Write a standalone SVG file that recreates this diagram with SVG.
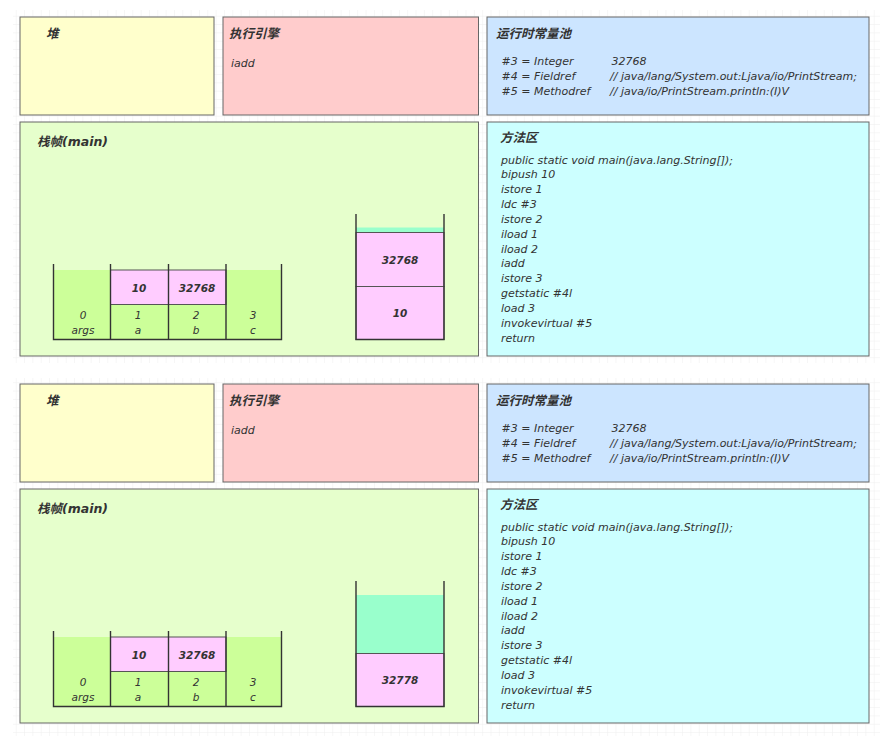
<svg xmlns="http://www.w3.org/2000/svg" width="880" height="736" viewBox="0 0 880 736">
<defs>
<pattern id="grid" width="8.33" height="8.33" patternUnits="userSpaceOnUse">
<path d="M8.33 0V8.33M0 8.33H8.33" fill="none" stroke="#eeeeee" stroke-width="1"/>
</pattern>
<style>
.box{stroke:#666666;stroke-width:1}
.heap{fill:#ffffcc}
.eng{fill:#ffcccc}
.pool{fill:#cce5ff}
.meth{fill:#ccffff}
.frame{fill:#e6ffcc}
.lv{fill:#ccff99}
.pink{fill:#ffccff;stroke:#555555;stroke-width:1}
.aqua{fill:#99ffcc}
.wall{fill:none;stroke:#333333;stroke-width:1.4}
.t{font-family:"DejaVu Sans","Noto Sans CJK SC",sans-serif;font-style:italic;fill:#333333}
.h{font-size:12.5px;font-weight:bold}
.b{font-size:11px}
.c{font-size:10.5px;font-weight:bold;text-anchor:middle}
.s{font-size:10.5px;text-anchor:middle}
</style>
</defs>
<rect width="880" height="736" fill="#ffffff"/>
<rect x="13" y="10" width="867" height="353" fill="url(#grid)"/>
<rect x="13" y="378" width="867" height="358" fill="url(#grid)"/>

<g id="panel1">
<g id="heap1"><rect class="box heap" x="20" y="17" width="194" height="98"/><text class="t h" x="46" y="38">堆</text></g>
<g id="engine1"><rect class="box eng" x="223" y="17" width="255.5" height="98"/><text class="t h" x="229" y="38">执行引擎</text><text class="t b" x="231" y="67">iadd</text></g>
<g id="pool1"><rect class="box pool" x="487" y="17" width="382" height="98"/><text class="t h" x="496" y="38">运行时常量池</text>
<text class="t b" x="501.5" y="65">#3 = Integer</text><text class="t b" x="611.5" y="65">32768</text>
<text class="t b" x="501.5" y="80">#4 = Fieldref</text><text class="t b" x="610" y="80">// java/lang/System.out:Ljava/io/PrintStream;</text>
<text class="t b" x="501.5" y="95">#5 = Methodref</text><text class="t b" x="610" y="95">// java/io/PrintStream.println:(I)V</text></g>
<g id="frame1"><rect class="box frame" x="20" y="122" width="458.5" height="234"/><text class="t h" x="37" y="146">栈帧(main)</text>
<g id="locals1">
<rect class="lv" x="53.5" y="270" width="228" height="69.5"/>
<rect class="pink" x="110.5" y="270" width="58" height="34.5"/><rect class="pink" x="168.5" y="270" width="57.5" height="34.5"/>
<path class="wall" d="M53.5 264V339.5H281.5V264M110.5 264V339.5M168.5 264V339.5M226 264V339.5"/>
<text class="t c" x="139" y="292">10</text><text class="t c" x="197" y="292">32768</text>
<text class="t s" x="83" y="319">0</text><text class="t s" x="83" y="334">args</text>
<text class="t s" x="138" y="319">1</text><text class="t s" x="138" y="334">a</text>
<text class="t s" x="196" y="319">2</text><text class="t s" x="196" y="334">b</text>
<text class="t s" x="253" y="319">3</text><text class="t s" x="253" y="334">c</text>
</g>
<g id="opstack1">
<rect class="aqua" x="356" y="227.5" width="88" height="5"/>
<rect class="pink" x="356" y="232.5" width="88" height="54"/><rect class="pink" x="356" y="286.5" width="88" height="53"/>
<path class="wall" d="M356 214V339.5H444V214"/>
<text class="t c" x="400" y="264">32768</text><text class="t c" x="400" y="317">10</text>
</g>
</g>
<g id="method1"><rect class="box meth" x="487" y="122" width="382" height="234"/><text class="t h" x="500" y="142">方法区</text>
<text class="t b" x="501"><tspan x="501" y="163.5">public static void main(java.lang.String[]);</tspan><tspan x="501" y="178.3">bipush 10</tspan><tspan x="501" y="193.2">istore 1</tspan><tspan x="501" y="208">ldc #3</tspan><tspan x="501" y="222.8">istore 2</tspan><tspan x="501" y="237.7">iload 1</tspan><tspan x="501" y="252.5">iload 2</tspan><tspan x="501" y="267.3">iadd</tspan><tspan x="501" y="282.2">istore 3</tspan><tspan x="501" y="297">getstatic #4l</tspan><tspan x="501" y="311.8">load 3</tspan><tspan x="501" y="326.7">invokevirtual #5</tspan><tspan x="501" y="341.5">return</tspan></text></g>
</g>

<g id="panel2" transform="translate(0,367)">
<g id="heap2"><rect class="box heap" x="20" y="17" width="194" height="98"/><text class="t h" x="46" y="38">堆</text></g>
<g id="engine2"><rect class="box eng" x="223" y="17" width="255.5" height="98"/><text class="t h" x="229" y="38">执行引擎</text><text class="t b" x="231" y="67">iadd</text></g>
<g id="pool2"><rect class="box pool" x="487" y="17" width="382" height="98"/><text class="t h" x="496" y="38">运行时常量池</text>
<text class="t b" x="501.5" y="65">#3 = Integer</text><text class="t b" x="611.5" y="65">32768</text>
<text class="t b" x="501.5" y="80">#4 = Fieldref</text><text class="t b" x="610" y="80">// java/lang/System.out:Ljava/io/PrintStream;</text>
<text class="t b" x="501.5" y="95">#5 = Methodref</text><text class="t b" x="610" y="95">// java/io/PrintStream.println:(I)V</text></g>
<g id="frame2"><rect class="box frame" x="20" y="122" width="458.5" height="234"/><text class="t h" x="37" y="146">栈帧(main)</text>
<g id="locals2">
<rect class="lv" x="53.5" y="270" width="228" height="69.5"/>
<rect class="pink" x="110.5" y="270" width="58" height="34.5"/><rect class="pink" x="168.5" y="270" width="57.5" height="34.5"/>
<path class="wall" d="M53.5 264V339.5H281.5V264M110.5 264V339.5M168.5 264V339.5M226 264V339.5"/>
<text class="t c" x="139" y="292">10</text><text class="t c" x="197" y="292">32768</text>
<text class="t s" x="83" y="319">0</text><text class="t s" x="83" y="334">args</text>
<text class="t s" x="138" y="319">1</text><text class="t s" x="138" y="334">a</text>
<text class="t s" x="196" y="319">2</text><text class="t s" x="196" y="334">b</text>
<text class="t s" x="253" y="319">3</text><text class="t s" x="253" y="334">c</text>
</g>
<g id="opstack2">
<rect class="aqua" x="356" y="228" width="88" height="58.5"/>
<rect class="pink" x="356" y="286.5" width="88" height="53"/>
<path class="wall" d="M356 214V339.5H444V214"/>
<text class="t c" x="400" y="317">32778</text>
</g>
</g>
<g id="method2"><rect class="box meth" x="487" y="122" width="382" height="234"/><text class="t h" x="500" y="142">方法区</text>
<text class="t b" x="501"><tspan x="501" y="163.5">public static void main(java.lang.String[]);</tspan><tspan x="501" y="178.3">bipush 10</tspan><tspan x="501" y="193.2">istore 1</tspan><tspan x="501" y="208">ldc #3</tspan><tspan x="501" y="222.8">istore 2</tspan><tspan x="501" y="237.7">iload 1</tspan><tspan x="501" y="252.5">iload 2</tspan><tspan x="501" y="267.3">iadd</tspan><tspan x="501" y="282.2">istore 3</tspan><tspan x="501" y="297">getstatic #4l</tspan><tspan x="501" y="311.8">load 3</tspan><tspan x="501" y="326.7">invokevirtual #5</tspan><tspan x="501" y="341.5">return</tspan></text></g>
</g>
<g id="connectors"/>
</svg>
